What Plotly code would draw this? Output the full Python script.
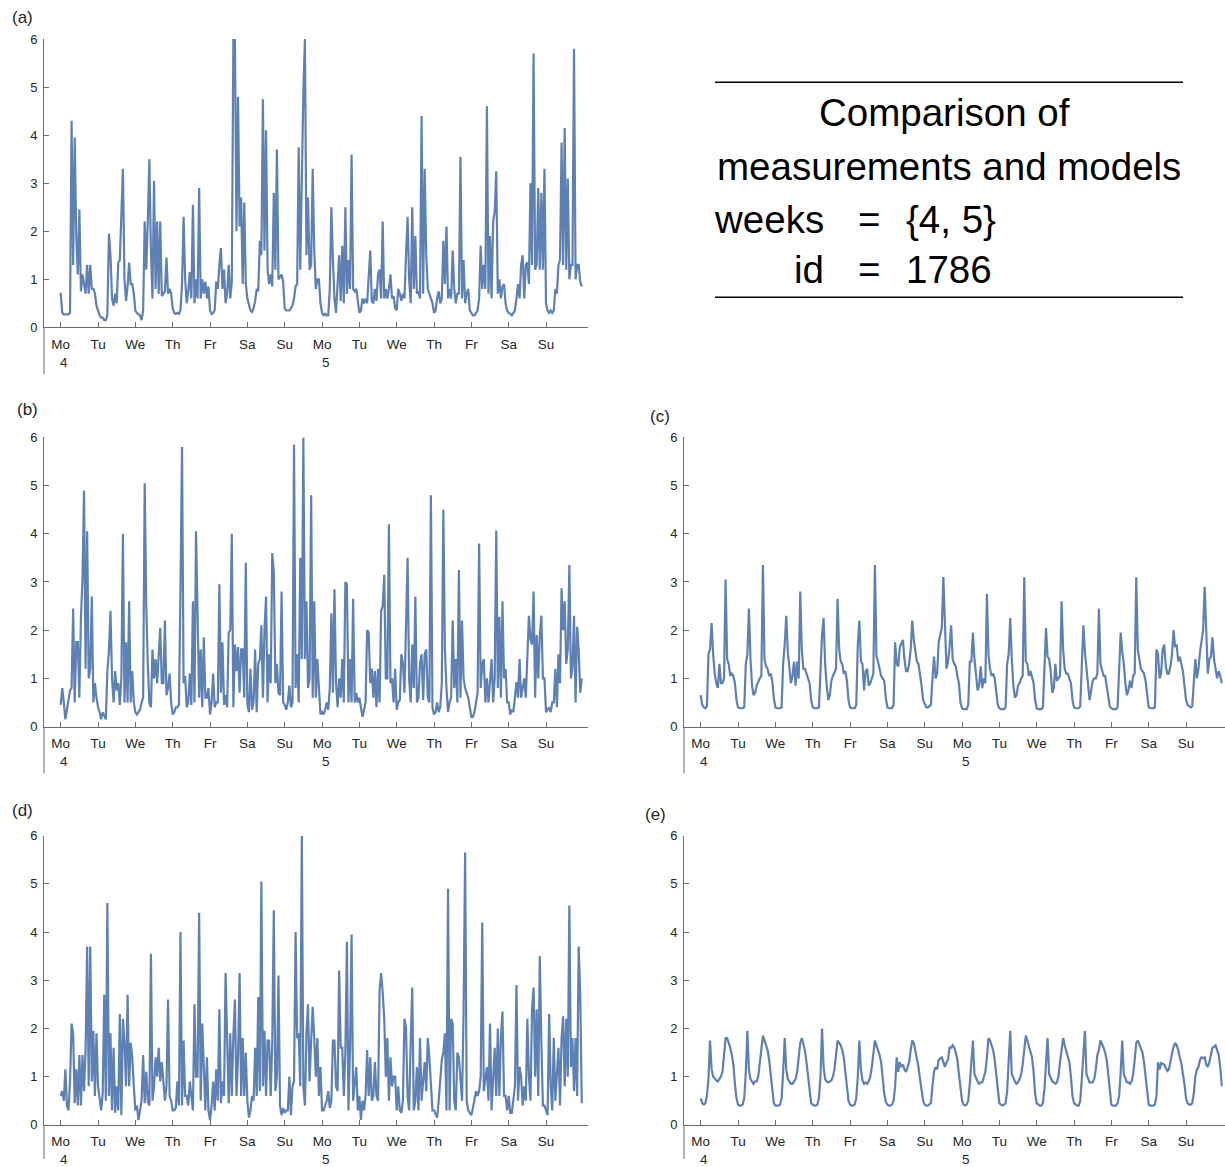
import plotly.graph_objects as go

W, H = 1225, 1167

day_labels = ["Mo", "Tu", "We", "Th", "Fr", "Sa", "Su"] * 2
day_starts = [24 * i for i in range(14)]
week_labels = ["4", "5"]
y_ticks = [0, 1, 2, 3, 4, 5, 6]
hours = list(range(336))

# (a) measurements, hourly, 14 days (rows = days)
series_a = (
    [0.72,0.3,0.27,0.27,0.27,0.27,0.3,4.3,1.3,3.95,1.9,1.1,2.45,0.75,1.1,0.9,0.7,1.3,0.7,1.3,0.8,0.8,0.7,0.45]
  + [0.35,0.25,0.2,0.2,0.15,0.15,0.25,1.95,1.5,0.6,0.45,0.7,0.5,1.35,1.4,2.3,3.3,1.0,0.55,0.85,1.35,0.9,0.9,0.7]
  + [0.35,0.3,0.28,0.25,0.15,0.35,2.2,1.2,2.2,3.5,1.6,0.6,3.05,0.8,2.2,0.7,2.2,0.65,0.7,0.75,1.45,0.7,0.8,0.7]
  + [0.4,0.3,0.28,0.3,0.28,0.35,0.9,2.3,1.0,0.5,0.75,1.15,0.6,2.55,0.5,1.0,0.6,2.9,0.6,1.0,0.7,0.95,0.6,0.85]
  + [0.35,0.28,0.3,0.35,0.95,0.8,1.3,1.65,0.8,1.2,0.5,0.7,1.3,0.6,0.95,6.0,6.0,2.0,4.8,2.1,2.7,0.9,2.6,0.9]
  + [0.6,0.45,0.35,0.32,0.4,0.55,0.8,0.75,1.8,1.5,4.75,1.6,4.1,1.2,0.9,1.1,0.85,2.8,1.2,3.7,1.0,1.05,1.1,0.95]
  + [0.4,0.35,0.35,0.35,0.4,0.45,0.6,0.85,0.9,3.75,1.2,3.3,4.9,6.0,1.5,2.7,1.2,1.3,3.3,1.6,0.8,1.0,1.0,0.5]
  + [0.3,0.25,0.28,0.25,0.25,0.8,2.5,1.4,0.6,0.3,1.0,1.5,0.55,1.7,0.5,2.5,0.7,1.4,0.8,3.6,0.8,0.75,0.8,0.5]
  + [0.3,0.35,0.6,0.5,0.6,0.5,1.1,1.6,0.55,0.5,0.8,0.55,1.1,1.2,0.6,2.2,0.6,0.8,0.6,0.8,1.1,0.6,0.65,0.4]
  + [0.35,0.8,0.7,0.55,0.7,0.6,1.5,2.3,1.0,0.5,2.5,0.8,1.9,0.7,0.75,0.6,4.4,0.7,3.3,1.5,0.8,0.7,0.6,0.5]
  + [0.3,0.35,0.6,0.75,0.5,0.6,1.8,0.9,2.1,0.6,0.8,0.6,1.6,0.8,0.5,0.7,0.7,3.55,0.6,1.4,0.5,0.7,0.8,0.35]
  + [0.3,0.25,0.25,0.3,0.35,0.6,1.7,0.8,1.3,0.8,4.6,0.7,1.9,0.6,2.2,2.4,3.25,0.7,1.0,0.6,0.85,0.9,0.5,0.35]
  + [0.3,0.28,0.25,0.3,0.35,0.6,0.9,0.6,1.3,1.5,0.6,1.3,1.35,0.9,3.0,1.3,5.7,1.2,1.3,2.9,1.2,2.8,1.2,3.3]
  + [0.5,0.35,0.3,0.35,0.3,0.35,0.8,0.7,1.3,1.4,3.85,1.3,4.15,1.2,3.1,1.0,1.3,1.3,5.8,1.0,1.3,1.3,0.95,0.85]
)

# (b)
series_b = (
    [0.45,0.8,0.5,0.15,0.35,0.55,0.75,0.8,2.45,0.5,1.75,1.75,0.6,2.25,3.05,4.9,1.2,4.05,1.0,1.2,2.7,0.5,0.9,0.6]
  + [0.4,0.3,0.15,0.3,0.2,0.15,1.15,1.55,2.4,1.0,0.5,1.15,0.75,0.9,0.45,1.0,4.0,0.5,1.75,0.5,2.6,0.5,1.15,0.5]
  + [0.3,0.25,0.3,0.35,0.5,0.6,5.05,2.5,1.3,0.5,0.4,1.6,1.0,1.4,0.9,1.5,2.05,0.9,0.9,2.2,0.65,0.8,1.1,0.5]
  + [0.25,0.3,0.4,0.4,0.45,2.8,5.8,0.9,1.05,0.4,0.5,1.1,0.45,2.6,0.5,4.05,2.1,0.6,1.6,0.4,1.85,0.6,0.6,0.8]
  + [0.25,0.5,1.1,0.4,0.5,0.5,2.95,0.7,1.75,0.45,0.65,0.4,1.95,2.0,4.0,0.4,1.7,1.15,1.65,0.7,1.6,1.6,0.6,3.4]
  + [0.45,0.3,1.2,0.35,0.5,1.6,0.3,1.3,1.4,2.1,0.6,2.0,2.7,0.5,1.5,0.9,3.6,3.2,0.9,1.3,0.7,0.65,2.8,0.5]
  + [0.45,0.35,0.5,0.85,0.4,0.5,5.85,0.8,1.5,0.5,3.5,1.4,6.0,1.4,2.6,0.8,1.0,4.8,0.6,2.6,0.6,1.4,0.8,0.25]
  + [0.3,0.25,0.35,0.5,0.35,0.8,2.35,0.7,2.85,0.9,0.4,1.0,0.6,1.4,0.5,3.0,2.95,0.5,1.4,0.5,2.65,0.5,0.7,0.5]
  + [0.6,0.35,0.2,0.35,0.5,2.0,1.95,0.9,1.2,0.6,1.15,0.4,1.2,0.5,2.4,2.5,3.15,1.0,1.0,4.2,0.9,1.0,0.5,1.2]
  + [0.35,0.5,0.55,1.5,1.3,0.7,2.4,3.5,1.0,0.5,1.7,0.8,2.7,0.5,0.6,1.3,1.5,0.55,1.5,1.6,0.6,0.5,4.8,0.4]
  + [0.25,0.3,0.5,0.3,0.4,0.9,4.5,1.6,0.8,0.3,0.5,0.6,2.2,0.8,1.4,0.5,3.25,0.6,2.2,1.0,0.8,0.7,0.6,0.4]
  + [0.2,0.2,0.3,0.5,0.7,3.8,0.8,1.3,1.4,0.5,1.0,0.5,1.0,1.4,0.5,1.0,4.07,0.8,2.28,0.6,2.6,1.0,1.2,0.5]
  + [0.5,0.25,0.35,0.3,0.6,0.92,0.6,1.4,0.6,0.8,1.0,0.6,1.4,2.3,1.8,1.7,2.8,0.6,1.9,1.0,1.9,2.3,1.0,1.0]
  + [0.3,0.35,0.4,0.3,0.5,0.5,1.2,0.4,1.5,0.9,2.87,2.0,2.6,1.3,1.6,3.35,1.0,1.2,2.3,0.5,2.07,1.6,0.7,1.0]
)

# (c)
series_c = (
    [0.65,0.45,0.4,0.38,0.42,1.5,1.6,2.15,1.5,1.1,0.9,0.8,1.3,0.9,0.9,1.0,3.05,1.4,1.3,1.05,1.1,1.05,0.9,0.55]
  + [0.4,0.38,0.38,0.38,0.4,1.3,1.5,2.45,1.4,0.85,0.65,0.7,0.85,0.95,1.0,1.05,3.35,1.4,1.25,1.2,1.05,1.1,0.95,0.6]
  + [0.4,0.38,0.38,0.38,0.4,1.3,1.7,2.3,1.55,1.2,0.9,1.05,1.35,0.85,1.35,1.0,2.8,1.6,1.2,1.2,1.1,1.05,0.9,0.55]
  + [0.4,0.38,0.38,0.38,0.4,1.3,1.9,2.25,1.3,0.85,0.55,0.65,0.95,1.05,1.15,1.2,2.65,1.6,1.35,1.3,1.1,1.15,0.95,0.55]
  + [0.4,0.38,0.38,0.38,0.45,1.7,2.2,1.35,1.3,0.75,1.15,1.2,0.85,0.9,1.0,1.1,3.35,1.45,1.35,1.2,1.05,1.0,0.95,0.6]
  + [0.4,0.38,0.38,0.38,0.45,1.75,1.3,1.25,1.65,1.75,1.8,1.4,1.15,1.15,1.3,1.6,2.2,1.8,1.55,1.35,1.3,1.1,0.85,0.55]
  + [0.45,0.4,0.4,0.42,0.45,1.0,1.45,1.0,1.1,1.75,1.9,2.05,3.1,2.0,1.2,1.35,1.65,2.1,1.4,1.3,1.25,1.05,0.9,0.5]
  + [0.38,0.36,0.36,0.36,0.45,1.35,1.35,1.95,1.4,1.0,0.75,0.85,1.25,0.8,1.0,0.9,2.75,1.5,1.2,1.05,1.1,1.0,0.7,0.45]
  + [0.38,0.36,0.36,0.36,0.4,1.3,1.5,2.25,1.4,0.85,0.6,0.65,0.85,0.9,1.0,1.05,3.1,1.35,1.3,1.05,1.15,1.0,0.9,0.55]
  + [0.38,0.36,0.36,0.36,0.4,1.2,2.05,1.45,1.4,1.15,0.7,0.8,1.3,0.95,1.0,1.05,2.6,1.6,1.2,1.1,1.1,1.0,0.9,0.55]
  + [0.4,0.38,0.38,0.38,0.42,1.3,2.1,1.55,1.2,0.75,0.55,0.75,0.95,1.0,1.0,1.1,2.45,1.3,1.15,1.05,1.05,0.85,0.6,0.42]
  + [0.38,0.36,0.36,0.36,0.4,1.2,1.95,1.55,1.3,0.9,0.65,0.75,0.95,0.8,1.05,1.1,3.1,1.6,1.4,1.2,1.15,1.1,0.95,0.6]
  + [0.4,0.38,0.38,0.38,0.4,1.6,1.5,1.0,1.1,1.6,1.7,1.25,1.1,1.1,1.25,1.5,2.0,1.65,1.7,1.35,1.45,1.3,1.15,0.85]
  + [0.55,0.45,0.42,0.4,0.42,0.9,1.4,1.0,1.2,1.55,1.75,2.0,2.9,1.8,1.1,1.4,1.45,1.85,1.4,1.2,1.0,1.15,1.05,0.9]
)

# (d)
series_d = (
    [0.6,0.7,0.5,1.15,0.4,0.3,0.9,2.1,1.9,0.45,1.15,0.4,1.45,0.4,1.45,0.7,1.55,3.7,0.8,3.7,0.9,1.95,0.6,1.9]
  + [0.8,0.5,0.3,0.65,2.7,0.5,4.6,0.6,1.9,0.3,1.6,0.25,0.8,0.3,2.3,0.2,2.2,1.7,0.8,2.7,0.8,1.7,1.4,0.8]
  + [0.3,0.4,0.1,0.3,0.5,1.45,0.45,1.1,0.5,0.4,3.55,0.5,0.8,1.4,1.0,1.6,0.9,1.3,0.9,0.5,0.8,2.6,0.6,0.5]
  + [0.3,0.3,0.35,0.9,0.4,4.0,0.4,1.75,0.6,0.6,0.4,0.9,0.6,0.3,2.5,1.0,1.0,4.4,0.5,2.1,1.2,0.3,1.4,0.3]
  + [0.1,0.4,0.9,0.3,1.15,0.5,2.4,0.45,0.9,0.6,3.15,1.4,0.45,1.9,0.6,1.85,2.6,0.6,1.4,3.15,0.6,1.8,0.6,1.5]
  + [0.5,0.15,0.3,0.6,0.5,1.6,0.6,2.65,0.7,5.05,0.8,1.95,0.6,1.75,1.75,0.6,1.7,4.45,0.7,1.0,3.1,0.4,0.2,0.35]
  + [0.25,0.3,0.3,1.0,0.2,0.8,0.9,4.0,1.8,1.9,0.8,6.0,0.8,0.4,1.9,2.5,0.9,1.75,2.45,1.8,1.0,1.8,0.6,1.2]
  + [0.3,0.3,0.4,0.5,0.7,0.35,0.5,1.75,1.75,0.8,0.7,3.2,1.6,1.6,0.6,1.5,3.8,0.3,1.6,3.95,0.5,0.9,1.2,0.3]
  + [0.6,0.1,0.5,0.3,0.6,1.55,0.6,1.4,0.5,0.6,1.3,0.6,0.5,2.8,3.15,2.75,2.2,1.0,1.8,0.5,1.4,0.8,1.0,1.0]
  + [0.3,0.8,0.3,0.25,0.5,2.2,2.0,0.6,0.3,1.7,2.85,0.3,0.5,1.2,0.3,1.8,0.5,0.9,1.3,0.7,1.8,1.4,0.7,0.3]
  + [0.3,0.2,0.15,0.5,0.9,1.35,1.5,1.9,0.3,4.9,0.3,2.2,2.1,0.5,0.3,1.5,1.4,1.0,0.5,2.3,5.65,0.5,0.3,0.25]
  + [0.2,0.35,0.5,0.7,0.6,0.7,1.0,4.2,0.7,1.0,1.2,0.5,2.1,0.3,1.0,1.6,0.6,2.0,0.6,1.8,2.35,0.6,0.6,0.3]
  + [0.6,0.25,0.25,0.6,0.8,2.9,0.5,1.2,1.0,0.4,0.8,0.5,2.2,1.0,0.5,2.4,2.85,1.0,2.4,0.6,3.5,1.7,0.4,0.4]
  + [0.3,0.2,2.3,0.8,0.3,1.8,0.5,1.1,1.6,0.4,1.8,2.25,0.8,2.2,1.0,4.55,1.2,1.8,0.7,1.8,0.6,3.7,2.7,0.45]
)

# (e)
series_e = (
    [0.55,0.45,0.42,0.45,0.6,0.95,1.75,1.15,1.0,0.95,0.92,0.9,0.95,1.0,1.1,1.45,1.8,1.8,1.7,1.6,1.45,1.25,0.85,0.55]
  + [0.42,0.4,0.4,0.42,0.55,1.1,1.95,1.15,0.95,0.9,0.85,0.9,0.9,1.0,1.25,1.55,1.85,1.75,1.65,1.55,1.35,1.0,0.65,0.45]
  + [0.4,0.4,0.4,0.42,0.55,1.1,1.8,1.15,0.95,0.9,0.85,0.85,0.9,0.95,1.1,1.35,1.7,1.8,1.65,1.55,1.3,1.0,0.65,0.45]
  + [0.42,0.4,0.4,0.42,0.55,1.0,2.0,1.2,0.95,0.9,0.88,0.9,0.92,1.0,1.15,1.45,1.75,1.7,1.65,1.55,1.4,1.1,0.75,0.5]
  + [0.42,0.4,0.4,0.42,0.55,1.0,1.75,1.15,0.92,0.85,0.88,0.85,0.9,1.0,1.2,1.5,1.75,1.65,1.55,1.45,1.3,0.95,0.65,0.48]
  + [0.42,0.4,0.4,0.42,0.5,0.8,1.4,1.1,1.3,1.2,1.25,1.15,1.1,1.2,1.3,1.55,1.75,1.7,1.55,1.4,1.2,0.95,0.7,0.5]
  + [0.42,0.4,0.4,0.42,0.45,0.8,1.1,1.2,1.15,1.35,1.38,1.4,1.3,1.2,1.3,1.35,1.6,1.6,1.65,1.6,1.5,1.35,1.05,0.75]
  + [0.5,0.42,0.4,0.42,0.5,0.85,1.4,1.75,1.05,0.95,0.9,0.85,0.88,0.88,0.98,1.1,1.4,1.8,1.75,1.65,1.55,1.35,1.05,0.65]
  + [0.45,0.42,0.4,0.42,0.45,0.7,1.4,1.95,1.05,0.95,0.9,0.85,0.88,0.95,1.05,1.25,1.5,1.85,1.75,1.65,1.55,1.4,1.1,0.65]
  + [0.45,0.42,0.4,0.4,0.45,0.75,1.2,1.8,1.05,0.95,0.9,0.88,0.85,0.88,1.0,1.3,1.6,1.8,1.65,1.55,1.45,1.3,1.0,0.6]
  + [0.45,0.42,0.4,0.4,0.5,0.95,1.5,1.95,1.05,0.95,0.88,0.88,0.88,0.95,1.15,1.45,1.55,1.75,1.68,1.6,1.5,1.35,1.05,0.7]
  + [0.42,0.4,0.4,0.4,0.45,0.6,1.1,1.75,1.05,0.95,0.88,0.88,0.85,0.9,1.05,1.35,1.7,1.75,1.65,1.6,1.5,1.3,1.0,0.65]
  + [0.42,0.4,0.4,0.4,0.42,0.6,1.3,1.15,1.28,1.27,1.25,1.18,1.12,1.15,1.35,1.48,1.62,1.7,1.65,1.55,1.4,1.28,1.05,0.85]
  + [0.55,0.45,0.42,0.42,0.45,0.65,1.0,1.15,1.2,1.35,1.4,1.38,1.4,1.25,1.2,1.3,1.45,1.6,1.62,1.65,1.55,1.45,1.2,0.8]
)

title_lines = ["Comparison of", "measurements and models"]
title_rows = [("weeks", "=", "{4, 5}"), ("id", "=", "1786")]

LINE = "#5E81B5"
AX = "#6b6b6b"
TXT = "#262626"
FONT = "Liberation Sans, Arial, sans-serif"

# panel frames in pixels: left, right, top (y=6), bottom (y=0), label center
panels = [
    ("a", series_a, 44, 588, 40, 328, (22, 18)),
    ("b", series_b, 44, 588, 438, 727, (27, 410)),
    ("c", series_c, 684, 1225, 438, 727, (660, 417)),
    ("d", series_d, 44, 588, 836, 1125, (22, 811)),
    ("e", series_e, 684, 1225, 836, 1125, (655, 815)),
]

PX_PER_HOUR = 1.5555
OFFSET0 = 16.7  # pixels from y-axis to first day tick

# vertical compensation for how the page is photographed
V_OFF, V_SCALE = 7.9, 0.9865

fig = go.Figure()
layout = dict(
    width=W, height=H, margin=dict(l=0, r=0, t=0, b=0),
    paper_bgcolor="white", plot_bgcolor="white", showlegend=False,
    font=dict(family=FONT, color=TXT),
)
shapes = []
annotations = []


def px(x):
    return x / W


def py(y):
    yi = (y - V_OFF) / V_SCALE
    return 1 - yi / H


for i, (name, vals, l, r, t, b, lab) in enumerate(panels, start=1):
    xa = "x" if i == 1 else f"x{i}"
    ya = "y" if i == 1 else f"y{i}"
    fig.add_trace(go.Scatter(
        x=hours, y=vals, mode="lines",
        line=dict(color=LINE, width=2.2), xaxis=xa, yaxis=ya,
        hoverinfo="skip", showlegend=False,
    ))
    xr = [-OFFSET0 / PX_PER_HOUR, (r - l - OFFSET0) / PX_PER_HOUR]
    layout["xaxis" if i == 1 else f"xaxis{i}"] = dict(
        domain=[px(l), min(px(r), 1.0)], range=xr, anchor=ya,
        tickvals=day_starts, ticktext=day_labels,
        ticks="inside", ticklen=5, tickcolor=AX, tickwidth=1,
        showline=True, linecolor=AX, linewidth=1,
        showgrid=False, zeroline=False,
        tickfont=dict(size=13.5, color=TXT, family=FONT),
        ticklabelstandoff=4,
    )
    layout["yaxis" if i == 1 else f"yaxis{i}"] = dict(
        domain=[py(b), py(t)], range=[0, 6], anchor=xa,
        tickvals=y_ticks, ticktext=[str(v) for v in y_ticks],
        ticks="inside", ticklen=5, tickcolor=AX, tickwidth=1,
        showline=True, linecolor=AX, linewidth=1,
        showgrid=False, zeroline=False,
        tickfont=dict(size=13, color=TXT, family=FONT),
        ticklabelstandoff=3,
    )
    # date frame extension below the axis
    shapes.append(dict(type="line", xref="paper", yref="paper",
                       x0=px(l), x1=px(l), y0=py(b), y1=max(py(b + 47), 0),
                       line=dict(color=AX, width=1)))
    # week numbers
    for wk, dx in zip(week_labels, (20, 282)):
        annotations.append(dict(
            x=px(l + dx), y=py(b + 35), xref="paper", yref="paper",
            text=wk, showarrow=False, xanchor="center", yanchor="middle",
            font=dict(size=13.5, color=TXT, family=FONT)))
    annotations.append(dict(
        x=px(lab[0]), y=py(lab[1]), xref="paper", yref="paper",
        text=f"({name})", showarrow=False, xanchor="center", yanchor="middle",
        font=dict(size=17, color=TXT, family=FONT)))

# title block
for yy in (83, 298):
    shapes.append(dict(type="line", xref="paper", yref="paper",
                       x0=px(715), x1=px(1183), y0=py(yy), y1=py(yy),
                       line=dict(color="black", width=1.5)))
TFONT = dict(size=38.5, color="black", family=FONT)
for txt, (cx, cy) in zip(title_lines, [(944, 113), (949, 167)]):
    annotations.append(dict(x=px(cx), y=py(cy), xref="paper", yref="paper",
                            text=txt, showarrow=False, xanchor="center",
                            yanchor="middle", font=TFONT))
for (lhs, eq, rhs), cy in zip(title_rows, (220, 270)):
    annotations.append(dict(x=px(826), y=py(cy), xref="paper", yref="paper",
                            text=lhs, showarrow=False, xanchor="right",
                            yanchor="middle", font=TFONT))
    annotations.append(dict(x=px(869), y=py(cy), xref="paper", yref="paper",
                            text=eq, showarrow=False, xanchor="center",
                            yanchor="middle", font=TFONT))
    annotations.append(dict(x=px(904), y=py(cy), xref="paper", yref="paper",
                            text=rhs, showarrow=False, xanchor="left",
                            yanchor="middle", font=TFONT))

layout["shapes"] = shapes
layout["annotations"] = annotations
fig.update_layout(**layout)
fig.write_html("out.html")
